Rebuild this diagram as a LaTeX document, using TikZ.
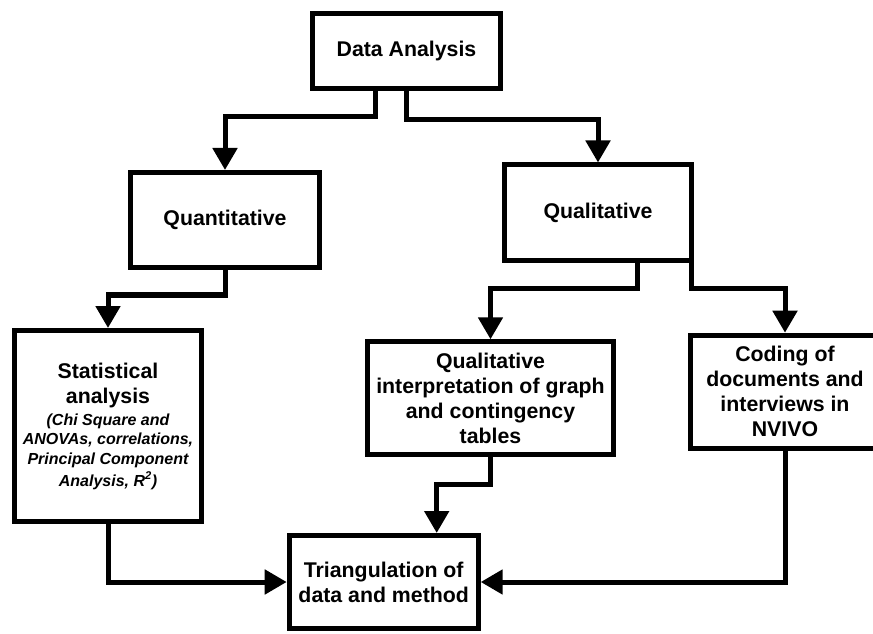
\documentclass[tikz,border=0pt]{standalone}
\usepackage{fontspec}
\setmainfont{Liberation Sans}
\usetikzlibrary{arrows.meta}

\newcommand{\miudo}{\fontsize{16}{19.5}\selectfont\itshape}

\begin{document}
\begin{tikzpicture}[x=1pt, y=1pt,
        caixa/.style={draw, line width=5pt, align=center, inner sep=0pt,
            font=\fontsize{21.3}{25}\selectfont\bfseries},
        fluxo/.style={line width=5pt, -{Triangle[width=24pt, length=22pt]}}]
        % Area da figura
        \useasboundingbox (0,0) rectangle (873,633);
        \clip (0,0) rectangle (873,633);

        % Caixas
        \node[caixa, minimum width=188pt, minimum height=75pt] (dados) at (406.5,582) {Data Analysis};
        \node[caixa, minimum width=189pt, minimum height=95pt] (quant) at (225,413) {Quantitative};
        \node[caixa, minimum width=187pt, minimum height=96pt] (quali) at (598,420) {Qualitative};
        \node[caixa, minimum width=187pt, minimum height=191pt] (estat) at (108,207)
            {Statistical\\analysis\\[-3pt]
             \miudo (Chi Square and\\[-5.5pt]
             \miudo ANOVAs, correlations,\\[-5.5pt]
             \miudo Principal Component\\[-3pt]
             \miudo Analysis, R\textsuperscript{2})};
        \node[caixa, minimum width=246pt, minimum height=113pt] (interp) at (490.5,234.7)
            {Qualitative\\interpretation of graph\\and contingency\\tables};
        \node[caixa, minimum width=190pt, minimum height=113pt] (codif) at (785,241.3)
            {Coding of\\documents and\\interviews in\\NVIVO};
        \node[caixa, minimum width=189pt, minimum height=93pt] (triang) at (383.7,51)
            {Triangulation of\\data and method};

        % Setas
        \draw[fluxo] ([xshift=-30.7pt]dados.south) -- ++(0,-26) -| (quant.north);
        \draw[fluxo] (dados.south) -- ++(0,-29) -| (quali.north);
        \draw[fluxo] (quant.south) -- ++(0,-25) -| (estat.north);
        \draw[fluxo] ([xshift=39pt]quali.south) -- ++(0,-25) -| (interp.north);
        \draw[fluxo] ([xshift=93.5pt]quali.south) -- ++(0,-25) -| (codif.north);
        \draw[fluxo] (interp.south) -- ++(0,-27) -| ([xshift=53pt]triang.north);
        \draw[fluxo] (estat.south) |- (triang.west);
        \draw[fluxo] (codif.south) |- (triang.east);
    \end{tikzpicture}
\end{document}
